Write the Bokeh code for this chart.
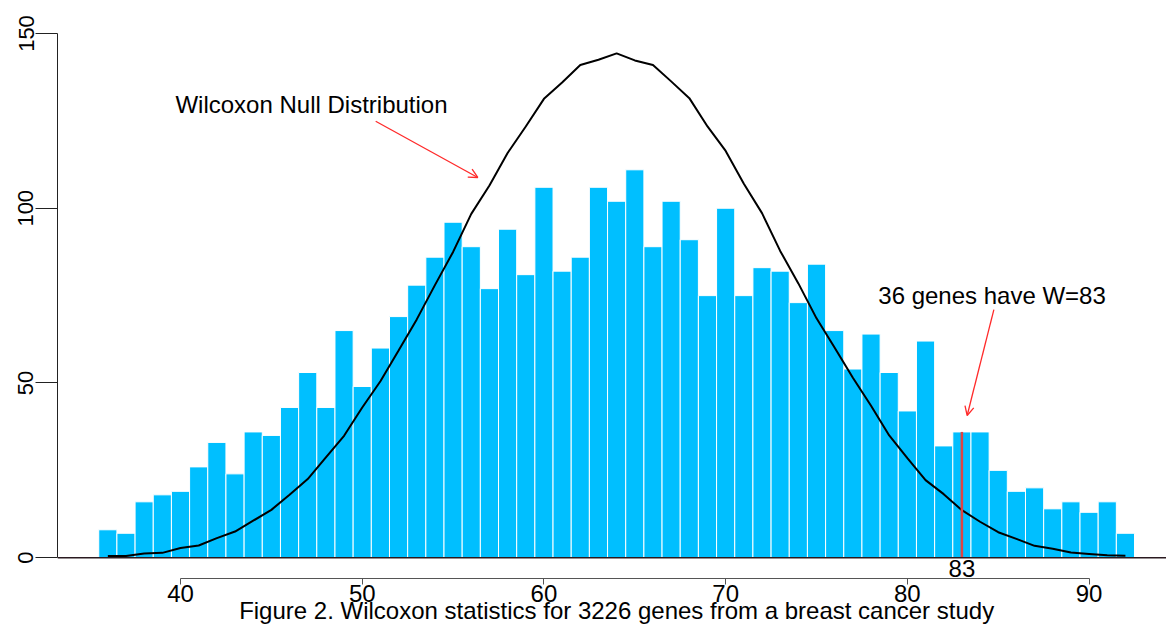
from bokeh.plotting import figure
from bokeh.models import Range1d, FixedTicker, Label, Arrow, OpenHead, Span, ColumnDataSource
from bokeh.embed import file_html
from bokeh.resources import INLINE

# ---- data ----
w_values = [36, 37, 38, 39, 40, 41, 42, 43, 44, 45, 46, 47, 48, 49, 50, 51, 52, 53, 54,
            55, 56, 57, 58, 59, 60, 61, 62, 63, 64, 65, 66, 67, 68, 69, 70, 71, 72, 73,
            74, 75, 76, 77, 78, 79, 80, 81, 82, 83, 84, 85, 86, 87, 88, 89, 90, 91, 92]
gene_counts = [8, 7, 16, 18, 19, 26, 33, 24, 36, 35, 43, 53, 43, 65, 49, 60, 69, 78, 86,
               96, 89, 77, 94, 81, 106, 82, 86, 106, 102, 111, 89, 102, 91, 75, 100, 75, 83, 82,
               73, 84, 65, 54, 64, 53, 42, 62, 32, 36, 36, 25, 19, 20, 14, 16, 13, 16, 7]
null_expected = [0.5, 0.5, 1.2, 1.4, 2.8, 3.5, 5.6, 7.5, 10.6, 13.7, 18.0, 22.5, 28.7, 34.9,
                 43.0, 50.5, 59.3, 68.2, 78.0, 87.5, 98.4, 106.5, 115.8, 123.4, 131.3, 136.0,
                 141.0, 142.5, 144.3, 142.3, 141.0, 136.3, 131.5, 123.4, 116.4, 107.0, 98.6,
                 87.8, 78.5, 68.5, 60.1, 51.5, 43.5, 35.0, 28.5, 22.2, 18.2, 13.6, 10.3, 7.3,
                 5.4, 3.4, 2.6, 1.5, 1.1, 0.7, 0.6]
x_ticks = [40, 50, 60, 70, 80, 90]
y_ticks = [0, 50, 100, 150]
highlight_w = 83
highlight_count = gene_counts[w_values.index(highlight_w)]

title_text = "Figure 2. Wilcoxon statistics for 3226 genes from a breast cancer study"
null_label = "Wilcoxon Null Distribution"
w_label = "36 genes have W=83"

FONT = "Liberation Sans"

p = figure(width=1166, height=624,
           x_range=Range1d(33.23, 94.26), y_range=Range1d(-19.1, 150),
           output_backend="svg", toolbar_location=None,
           min_border_left=57, min_border_right=0, min_border_top=33, min_border_bottom=0)
p.grid.visible = False
p.outline_line_color = None
p.background_fill_color = "white"
p.border_fill_color = "white"

# axes
xa = p.xaxis[0]
xa.fixed_location = -5.92
xa.ticker = FixedTicker(ticks=x_ticks)
xa.bounds = (40, 90)
xa.major_tick_in = 0
xa.major_tick_out = 6
xa.minor_tick_line_color = None
xa.axis_line_color = "#555555"
xa.major_tick_line_color = "#555555"
xa.major_label_standoff = 1
xa.major_label_text_font = FONT
xa.major_label_text_font_size = "24px"
xa.major_label_text_color = "black"

ya = p.yaxis[0]
ya.ticker = FixedTicker(ticks=y_ticks)
ya.bounds = (0, 150)
ya.major_tick_in = 0
ya.major_tick_out = 22
ya.minor_tick_line_color = None
ya.axis_line_color = "#222222"
ya.major_tick_line_color = "#222222"
ya.major_label_orientation = "vertical"
ya.major_label_standoff = 2
ya.major_label_text_font = FONT
ya.major_label_text_font_size = "22px"
ya.major_label_text_color = "black"

src = ColumnDataSource(dict(w=w_values, n=gene_counts, e=null_expected))

# baseline
p.add_layout(Span(location=0, dimension="width", line_color="#2a1a20", line_width=1.5))

p.vbar(x="w", top="n", width=1.0, source=src, fill_color="#00BFFF",
       line_color="white", line_width=1)
p.line(x="w", y="e", source=src, line_color="black", line_width=2)

p.segment(x0=[highlight_w], y0=[0], x1=[highlight_w], y1=[highlight_count],
          line_color="#dd4444", line_width=2.5)

# annotations
p.add_layout(Label(x=39.72, y=129.6, text=null_label, text_font=FONT,
                   text_font_size="24px", text_baseline="middle", text_align="left",
                   text_color="black"))
p.add_layout(Arrow(x_start=50.74, y_start=124.9, x_end=56.36, y_end=108.8,
                   line_color="#ff2a2a", line_width=1.3,
                   end=OpenHead(size=9, line_color="#ff2a2a", line_width=1.3)))

p.add_layout(Label(x=78.4, y=75.0, text=w_label, text_font=FONT,
                   text_font_size="24px", text_baseline="middle", text_align="left",
                   text_color="black"))
p.add_layout(Arrow(x_start=84.76, y_start=71.0, x_end=83.29, y_end=40.7,
                   line_color="#ff2a2a", line_width=1.3,
                   end=OpenHead(size=9, line_color="#ff2a2a", line_width=1.3)))

p.add_layout(Label(x=highlight_w, y=-3.0, text=str(highlight_w), text_font=FONT,
                   text_font_size="24px", text_baseline="middle", text_align="center",
                   text_color="black"))

p.add_layout(Label(x=64.0, y=-15.08, text=title_text, text_font=FONT,
                   text_font_size="24px", text_baseline="middle", text_align="center",
                   text_color="black"))

open("out.html", "w").write(file_html(p, INLINE))
